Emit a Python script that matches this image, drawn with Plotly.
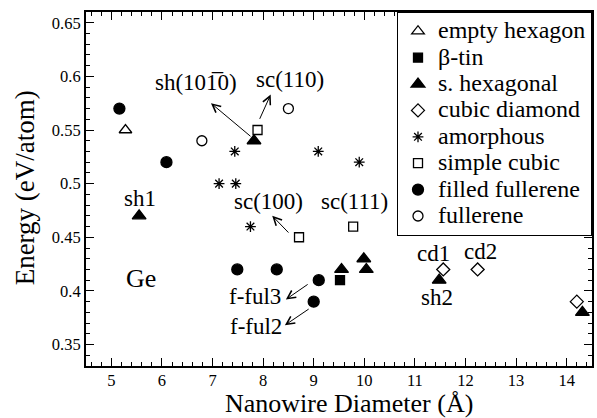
import plotly.graph_objects as go

# ---- data ----
empty_hex_x = [5.28]
empty_hex_y = [0.55]
btin_x = [9.52]
btin_y = [0.41]
shex_x = [5.55, 7.82, 9.55, 9.99, 10.04, 11.48, 14.31]
shex_y = [0.47, 0.54, 0.42, 0.43, 0.42, 0.41, 0.38]
cd_x = [11.56, 12.24, 14.2]
cd_y = [0.42, 0.42, 0.39]
amor_x = [7.44, 7.13, 7.46, 7.75, 9.09, 9.9]
amor_y = [0.53, 0.50, 0.50, 0.46, 0.53, 0.52]
sc_x = [7.89, 8.71, 9.78]
sc_y = [0.55, 0.45, 0.46]
ff_x = [5.16, 6.09, 7.49, 8.27, 9.1, 9.0]
ff_y = [0.57, 0.52, 0.42, 0.42, 0.41, 0.39]
ful_x = [6.79, 8.5]
ful_y = [0.54, 0.57]

# labels: text, x, y
labels = [
    ("sh(10" + "1\u0305" + "0)", 6.67, 0.594),
    ("sc(110)", 8.53, 0.597),
    ("sc(100)", 8.1, 0.483),
    ("sc(111)", 9.8, 0.483),
    ("sh1", 5.57, 0.486),
    ("cd1", 11.36, 0.435),
    ("cd2", 12.3, 0.437),
    ("sh2", 11.43, 0.394),
    ("f-ful3", 7.84, 0.395),
    ("f-ful2", 7.86, 0.367),
]
# arrows: tail x, tail y, head x, head y
arrows = [
    (7.78, 0.543, 6.97, 0.575),
    (7.92, 0.559, 8.15, 0.583),
    (8.53, 0.453, 8.18, 0.470),
    (8.91, 0.407, 8.45, 0.392),
    (8.93, 0.384, 8.43, 0.368),
]

FONT = "Liberation Serif"
series = [
    ("empty hexagon", empty_hex_x, empty_hex_y, "triangle-up-open", 11),
    ("\u03b2-tin", btin_x, btin_y, "square", 9),
    ("s. hexagonal", shex_x, shex_y, "triangle-up", 12),
    ("cubic diamond", cd_x, cd_y, "diamond-open", 10),
    ("amorphous", amor_x, amor_y, "asterisk-open", 9),
    ("simple cubic", sc_x, sc_y, "square-open", 9),
    ("filled fullerene", ff_x, ff_y, "circle", 11),
    ("fullerene", ful_x, ful_y, "circle-open", 10),
]

fig = go.Figure()
for name, xs, ys, sym, sz in series:
    fig.add_trace(go.Scatter(
        x=xs, y=ys, mode="markers",
        name='<span style="font-family:\'Liberation Serif\';font-size:24px">' + name + '</span>',
        marker=dict(symbol=sym, size=sz, color="black",
                    line=dict(color="black", width=1.3)),
    ))

for t, x, y in labels:
    fig.add_annotation(x=x, y=y, text=t, showarrow=False,
                       font=dict(family=FONT, size=23, color="black"))
fig.add_annotation(x=5.59, y=0.412, text="Ge", showarrow=False,
                   font=dict(family=FONT, size=26, color="black"))
for tx, ty, hx, hy in arrows:
    fig.add_annotation(x=hx, y=hy, ax=tx, ay=ty, xref="x", yref="y",
                       axref="x", ayref="y", text="", showarrow=True,
                       arrowhead=5, arrowsize=1.6, arrowwidth=1, arrowcolor="black")

# axis titles
fig.add_annotation(x=0.52, y=-0.1073, xref="paper", yref="paper",
                   text="Nanowire Diameter (\u00c5)", showarrow=False,
                   xanchor="center", yanchor="middle",
                   font=dict(family=FONT, size=26, color="black"))
fig.add_annotation(x=-0.121, y=0.504, xref="paper", yref="paper",
                   text="Energy (eV/atom)", showarrow=False, textangle=-90,
                   xanchor="center", yanchor="middle",
                   font=dict(family=FONT, size=27, color="black"))

axis_common = dict(
    showline=True, linecolor="black", linewidth=2, mirror="ticks",
    ticks="inside", tickcolor="black", tickwidth=1.3, ticklen=8,
    showgrid=False, zeroline=False,
    tickfont=dict(family=FONT, size=16.5, color="black"),
)
fig.update_xaxes(range=[4.5, 14.5], dtick=1, tick0=0, ticklabelstandoff=-2,
                 minor=dict(dtick=0.2, ticks="inside", ticklen=4, tickcolor="black", tickwidth=1),
                 **axis_common)
fig.update_yaxes(range=[0.33, 0.66], dtick=0.05, tick0=0,
                 minor=dict(dtick=0.01, ticks="inside", ticklen=4, tickcolor="black", tickwidth=1),
                 **axis_common)
fig.update_layout(
    width=597, height=418,
    margin=dict(l=86, r=5, t=12, b=52, autoexpand=False),
    paper_bgcolor="white", plot_bgcolor="white",
    font=dict(family=FONT, color="black"),
    legend=dict(x=1, y=1, xanchor="right", yanchor="top",
                bgcolor="white", bordercolor="black", borderwidth=1,
                font=dict(family=FONT, size=18, color="black"),
                itemsizing="trace", tracegroupgap=0),
    showlegend=True,
)
fig.write_html("out.html")
